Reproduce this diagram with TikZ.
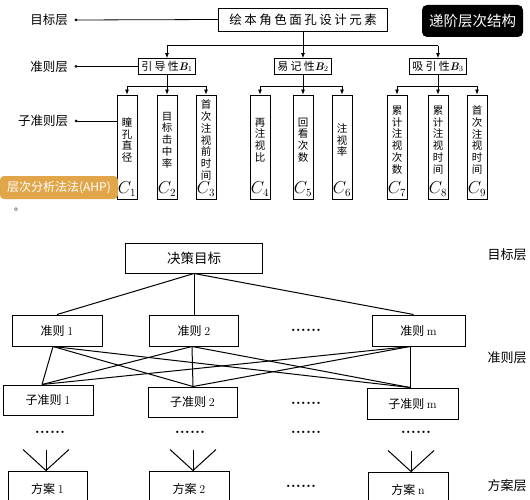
\documentclass[tikz,border=0pt]{standalone}
\usepackage{fontspec}
\newfontfamily\cjk{Noto Sans CJK SC}
\newfontfamily\cjkwide[LetterSpace=20]{Noto Sans CJK SC}
\usetikzlibrary{arrows.meta}
\definecolor{ahporange}{RGB}{226,166,74}
\newcommand{\bsym}[1]{{\rmfamily\bfseries\itshape #1}}
\newcommand{\lat}[1]{{\rmfamily #1}}
\tikzset{
	box/.style={draw, line width=0.8pt, inner sep=1pt},
	bbox/.style={box, minimum width=57, minimum height=16, font=\cjkwide\fontsize{11}{13}\selectfont},
	cbox/.style={box, minimum width=20, minimum height=104},
	vtext/.style={align=center, inner sep=0pt, font=\cjk\fontsize{10.5}{11.8}\selectfont},
	lvl/.style={font=\cjk\fontsize{12.5}{14}\selectfont},
	arr/.style={-{Latex[length=5pt,width=4pt]}, line width=0.8pt},
	ln/.style={line width=0.8pt},
	box2/.style={draw, line width=1pt, inner sep=1pt, font=\cjk\fontsize{12}{14}\selectfont},
	ln2/.style={line width=1pt},
	dots/.style={inner sep=0pt, font=\bfseries\fontsize{16}{16}\selectfont},
}

\begin{document}
\begin{tikzpicture}[x=1pt, y=-1pt]
	\useasboundingbox (0,0) rectangle (530,500);
	\clip (0,0) rectangle (530,500);

	% upper picture
	\node[box, minimum width=169, minimum height=23, font=\cjkwide\fontsize{12.5}{14}\selectfont] (goal) at (303,19.5) {绘本角色面孔设计元素};
	\node[fill=black, rounded corners=5, text=white, minimum width=101, minimum height=32, font=\cjk\fontsize{14.5}{16}\selectfont] (struct) at (472.5,21) {递阶层次结构};

	\foreach \i/\x/\t in {1/167/引导性, 2/303/易记性, 3/438/吸引性}
		\node[bbox] (B\i) at (\x,66.5) {\t\bsym{B}$_{\i}$};

	\foreach \i/\x/\t in {1/127/瞳\\孔\\直\\径, 2/167/目\\标\\击\\中\\率, 3/206/首\\次\\注\\视\\前\\时\\间,
		4/260/再\\注\\视\\比, 5/303/回\\看\\次\\数, 6/342/注\\视\\率,
		7/397/累\\计\\注\\视\\次\\数, 8/438/累\\计\\注\\视\\时\\间, 9/477/首\\次\\注\\视\\时\\间}{
		\node[cbox] (C\i) at (\x,147) {};
		\node[vtext] (T\i) at (\x,140) {\t};
		\node[inner sep=0pt, font=\fontsize{16}{18}\selectfont] (N\i) at (\x,189) {$C_{\i}$};
	}

	\coordinate (s0) at ([yshift=-14.5pt]goal.south);
	\draw[ln] (goal.south) -- (s0);
	\draw[ln] (B1.north|-s0) -- (B3.north|-s0);
	\foreach \i in {1,2,3}
		\draw[arr] (B\i.north|-s0) -- (B\i.north);

	\foreach \b/\l/\r in {1/1/3, 2/4/6, 3/7/9}{
		\coordinate (s\b) at ([yshift=-11.5pt]B\b.south);
		\draw[ln] (B\b.south) -- (s\b);
		\draw[ln] (C\l.north|-s\b) -- (C\r.north|-s\b);
		\foreach \c in {\l,...,\r}
			\draw[arr] (C\c.north|-s\b) -- (C\c.north);
	}

	\node[lvl] (L1) at (49,20) {目标层};
	\node[lvl] (L2) at (49,66.5) {准则层};
	\node[lvl] (L3) at (43,121) {子准则层};
	\coordinate (d1) at (76,20);
	\coordinate (d2) at (76,66.5);
	\coordinate (d3) at (76,121);
	\foreach \d in {d1,d2,d3}
		\fill (\d) circle (1.5);
	\draw[ln] (d1) -- (goal.west);
	\draw[ln] (d2) -- (B1.west);
	\draw[ln] (d3) -- (C1.west|-d3);

	\node[fill=ahporange, rounded corners=4, text=white, minimum width=118, minimum height=23, inner sep=0pt, font=\cjk\fontsize{12}{14}\selectfont] (ahp) at (59,187.5) {层次分析法法(AHP)};
	\node[inner sep=0pt, font=\cjk\fontsize{10}{12}\selectfont] (stop) at (19,210) {。};

	% lower picture
	\node[box2, minimum width=137, minimum height=30, font=\cjk\fontsize{13.5}{15}\selectfont] (dec) at (194,258) {决策目标};

	\node[box2, minimum width=90, minimum height=31] (K1) at (57,330.5) {准则 \lat{1}};
	\node[box2, minimum width=89, minimum height=31] (K2) at (194,330.5) {准则 \lat{2}};
	\node[box2, minimum width=93, minimum height=31] (Km) at (418.5,330.5) {准则 \lat{m}};

	\node[box2, minimum width=90, minimum height=30] (S1) at (48,400) {子准则 \lat{1}};
	\node[box2, minimum width=89, minimum height=30] (S2) at (192.5,402) {子准则 \lat{2}};
	\node[box2, minimum width=91, minimum height=31] (Sm) at (412.5,403.5) {子准则 \lat{m}};

	\node[box2, minimum width=79, minimum height=36] (P1) at (47.5,489) {方案 \lat{1}};
	\node[box2, minimum width=80, minimum height=36] (P2) at (189,489) {方案 \lat{2}};
	\node[box2, minimum width=80, minimum height=36] (Pn) at (408,490) {方案 \lat{n}};

	\foreach \k/\a in {K1/0, K2/0, Km/-5}
		\draw[ln2] (dec.south) -- ([xshift=\a pt]\k.north);
	\foreach \k/\a in {K1/-4, K2/-2, Km/-8.5}
		\foreach \s/\b in {S1/-6, S2/0.5, Sm/-2.5}
			\draw[ln2] ([xshift=\a pt]\k.south) -- ([xshift=\b pt]\s.north);
	\foreach \p/\a in {P1/-1.5, P2/4, Pn/3}
		\foreach \dx in {-23,0,23}
			\draw[ln2] ([xshift=\a pt]\p.north) -- ++(\dx,-21);

	\node[dots] (e1) at (306,330) {......};
	\node[dots] (e2) at (306,403) {......};
	\foreach \x [count=\j] in {50,190,306,416}
		\node[dots] (f\j) at (\x,432) {......};
	\node[dots] (e3) at (301,486) {......};

	\node[lvl, font=\cjk\fontsize{13}{15}\selectfont] (R1) at (507,255) {目标层};
	\node[lvl, font=\cjk\fontsize{13}{15}\selectfont] (R2) at (507,358) {准则层};
	\node[lvl, font=\cjk\fontsize{13}{15}\selectfont] (R3) at (507,486) {方案层};
\end{tikzpicture}
\end{document}
